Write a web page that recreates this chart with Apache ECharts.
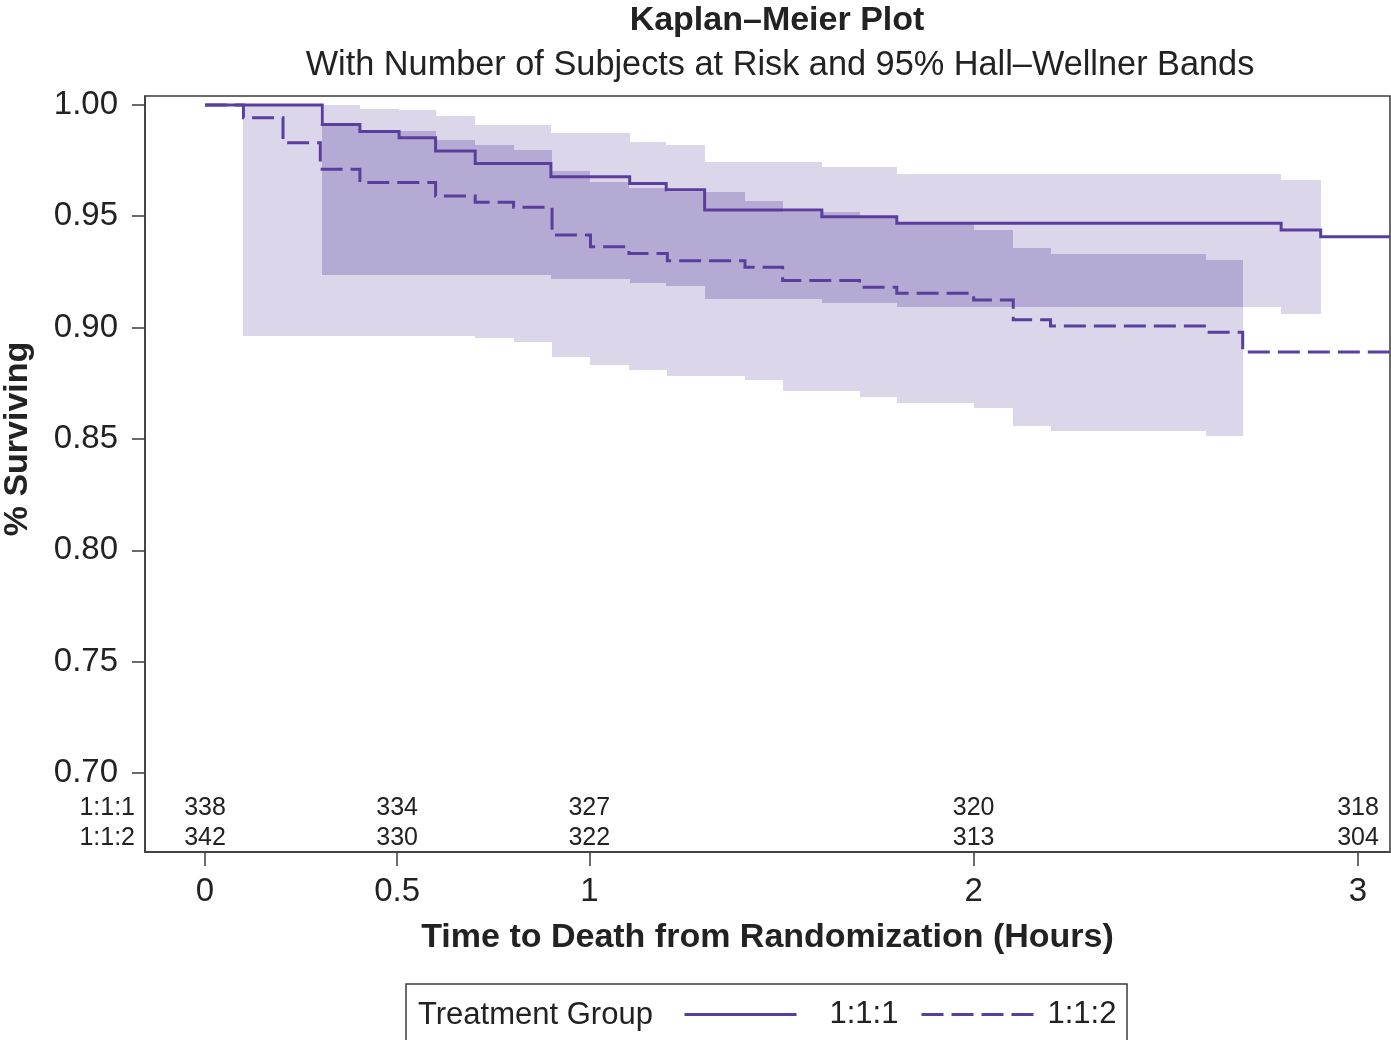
<!DOCTYPE html>
<html><head><meta charset="utf-8">
<script src="https://cdn.jsdelivr.net/npm/echarts@6/dist/echarts.min.js"></script>
<style>html,body{margin:0;padding:0;background:#fff}#c{width:1391px;height:1040px}</style>
</head><body><div id="c"></div>
<script>
// ---------------- data ----------------
const groups = ['1:1:1', '1:1:2'];
const timeTicks = [0, 0.5, 1, 2, 3];
const timeTickLabels = ['0', '0.5', '1', '2', '3'];
const survTicks = [0.70, 0.75, 0.80, 0.85, 0.90, 0.95, 1.00];

// Kaplan-Meier step curves (time in hours, survival proportion)
const km111Time = [0, 0.305, 0.403, 0.505, 0.600, 0.703, 0.900, 1.105, 1.200, 1.300, 1.605, 1.800, 2.800, 2.903, 3.083];
const km111Surv = [1.000, 0.9912, 0.9881, 0.9852, 0.9793, 0.9737, 0.9677, 0.9647, 0.9619, 0.9528, 0.9498, 0.9468, 0.9438, 0.9408, 0.9408];
const km112Time = [0, 0.100, 0.203, 0.300, 0.403, 0.600, 0.703, 0.803, 0.903, 1.003, 1.103, 1.203, 1.405, 1.503, 1.703, 1.800, 2.000, 2.103, 2.200, 2.605, 2.700, 3.083];
const km112Surv = [1.000, 0.9942, 0.9830, 0.9711, 0.9651, 0.9591, 0.9563, 0.9540, 0.9416, 0.9363, 0.9333, 0.9300, 0.9271, 0.9211, 0.9181, 0.9154, 0.9124, 0.9035, 0.9007, 0.8979, 0.8890, 0.8890];

// 95% Hall-Wellner bands: breakpoints and value on each interval
const band111Time  = [0.305, 0.403, 0.505, 0.600, 0.703, 0.900, 1.105, 1.200, 1.300, 1.605, 1.800, 2.800, 2.903];
const band111Upper = [1.000, 0.9982, 0.9978, 0.9948, 0.9910, 0.9873, 0.9835, 0.9820, 0.9745, 0.9720, 0.9690, 0.9663];
const band111Lower = [0.9234, 0.9234, 0.9234, 0.9234, 0.9234, 0.9217, 0.9202, 0.9187, 0.9127, 0.9112, 0.9093, 0.9063];
const band112Time  = [0.100, 0.203, 0.300, 0.403, 0.600, 0.703, 0.803, 0.903, 1.003, 1.103, 1.203, 1.405, 1.503, 1.703, 1.800, 2.000, 2.103, 2.200, 2.605, 2.700];
const band112Upper = [0.9995, 0.9995, 0.9915, 0.9885, 0.9843, 0.9820, 0.9798, 0.9704, 0.9653, 0.9626, 0.9607, 0.9570, 0.9521, 0.9495, 0.9468, 0.9439, 0.9356, 0.9330, 0.9304];
const band112Lower = [0.8964, 0.8964, 0.8964, 0.8964, 0.8964, 0.8952, 0.8934, 0.8870, 0.8832, 0.8810, 0.8784, 0.8765, 0.8717, 0.8689, 0.8663, 0.8638, 0.8560, 0.8537, 0.8515];

// Number of subjects at risk
const riskTimes = [0, 0.5, 1, 2, 3];
const risk111 = [338, 334, 327, 320, 318];
const risk112 = [342, 330, 322, 313, 304];

// ---------------- layout / style ----------------
const FONT = '"Liberation Sans", Arial, Helvetica, sans-serif';
const TXT = '#222';
const AXC = '#3a3a3a';
const LINE = '#5a3e9e';
const LIGHT = '#dcd6ea';
const DARK = '#b5aad4';
const X_MIN = -0.1561, X_MAX = 3.0833;
const Y_MIN = 0.6645, Y_MAX = 1.0040;
const riskRowY = [0.6843, 0.6708];

// ---------------- helpers ----------------
function bandRows(times, lo, hi) {
  const rows = [];
  for (let i = 0; i < lo.length; i++) rows.push([times[i], times[i + 1], lo[i], hi[i]]);
  return rows;
}
function bandAt(times, lo, hi, t) {
  for (let i = 0; i < lo.length; i++) if (t >= times[i] && t < times[i + 1]) return [lo[i], hi[i]];
  return null;
}
function overlapRows() {
  const pts = Array.from(new Set(band111Time.concat(band112Time))).sort((a, b) => a - b);
  const rows = [];
  for (let i = 0; i < pts.length - 1; i++) {
    const m = (pts[i] + pts[i + 1]) / 2;
    const a = bandAt(band111Time, band111Lower, band111Upper, m);
    const b = bandAt(band112Time, band112Lower, band112Upper, m);
    if (a && b) {
      const lo = Math.max(a[0], b[0]), hi = Math.min(a[1], b[1]);
      if (hi > lo) rows.push([pts[i], pts[i + 1], lo, hi]);
    }
  }
  return rows;
}
function rectRenderer(color) {
  return function (params, api) {
    const p0 = api.coord([api.value(0), api.value(3)]);
    const p1 = api.coord([api.value(1), api.value(2)]);
    const x0 = Math.round(p0[0]), x1 = Math.round(p1[0]);
    const y0 = Math.round(p0[1]), y1 = Math.round(p1[1]);
    return { type: 'rect', shape: { x: x0, y: y0, width: x1 - x0, height: y1 - y0 }, style: { fill: color } };
  };
}
function bandSeries(name, rows, color, z) {
  return {
    type: 'custom', name: name, silent: true, z: z,
    renderItem: rectRenderer(color),
    dimensions: ['t0', 't1', 'lo', 'hi'],
    encode: { x: [0, 1], y: [2, 3] },
    data: rows
  };
}
function riskSeries(k, counts) {
  return {
    type: 'scatter', name: 'at risk ' + groups[k], symbol: 'circle', symbolSize: 2,
    itemStyle: { color: 'rgba(255,255,255,0)' }, silent: true, z: 6,
    data: riskTimes.map((t, i) => [t, riskRowY[k], counts[i]]),
    label: { show: true, position: 'inside', formatter: p => String(p.value[2]),
             fontFamily: FONT, fontSize: 25, color: TXT, opacity: 1 },
    labelLayout: { hideOverlap: false }
  };
}

const chart = echarts.init(document.getElementById('c'), null, { renderer: 'canvas' });
chart.setOption({
  animation: false,
  backgroundColor: '#fff',
  textStyle: { fontFamily: FONT },
  title: [
    { text: 'Kaplan–Meier Plot', left: 772, top: -1, textAlign: 'center',
      textStyle: { fontFamily: FONT, fontSize: 34, fontWeight: 'bold', color: TXT } },
    { text: 'With Number of Subjects at Risk and 95% Hall–Wellner Bands', left: 775, top: 44, textAlign: 'center',
      textStyle: { fontFamily: FONT, fontSize: 34.3, fontWeight: 'normal', color: TXT } }
  ],
  grid: { left: 145, right: 1, top: 96, bottom: 188, show: true, borderColor: AXC, borderWidth: 1.5,
          outerBoundsMode: 'none', containLabel: false },
  xAxis: {
    type: 'value', min: X_MIN, max: X_MAX,
    name: 'Time to Death from Randomization (Hours)', nameLocation: 'middle', nameGap: 69,
    nameTextStyle: { fontFamily: FONT, fontSize: 34, fontWeight: 'bold', color: TXT },
    axisLine: { show: true, onZero: false, lineStyle: { color: AXC, width: 1.5 } },
    axisTick: { show: true, length: 14, lineStyle: { color: AXC, width: 1.5 }, customValues: timeTicks },
    axisLabel: { customValues: timeTicks, margin: 23, fontFamily: FONT, fontSize: 33, color: TXT,
                 formatter: v => { const i = timeTicks.findIndex(t => Math.abs(t - v) < 1e-6); return i >= 0 ? timeTickLabels[i] : ''; } },
    splitLine: { show: false }
  },
  yAxis: [
    {
      type: 'value', min: Y_MIN, max: Y_MAX,
      axisLine: { show: true, onZero: false, lineStyle: { color: AXC, width: 1.5 } },
      axisTick: { show: true, length: 13, lineStyle: { color: AXC, width: 1.5 }, customValues: survTicks },
      axisLabel: { customValues: survTicks, margin: 27, fontFamily: FONT, fontSize: 33, color: TXT,
                   formatter: v => v.toFixed(2) },
      splitLine: { show: false }
    },
    {
      type: 'value', min: Y_MIN, max: Y_MAX, position: 'left',
      axisLine: { show: false }, axisTick: { show: false }, splitLine: { show: false },
      axisLabel: { customValues: riskRowY, margin: 10, fontFamily: FONT, fontSize: 25, color: TXT,
                   formatter: v => { const i = riskRowY.findIndex(r => Math.abs(r - v) < 1e-6); return i >= 0 ? groups[i] : ''; } }
    }
  ],
  legend: [
    { data: [groups[0]], left: 683, top: 999, orient: 'horizontal', padding: 0, itemWidth: 112, itemHeight: 14, selectedMode: false,
      textStyle: { fontFamily: FONT, fontSize: 31, color: TXT, padding: [0, 0, 0, 28] },
      itemStyle: { opacity: 0 },
      lineStyle: { width: 3, opacity: 1 } },
    { data: [groups[1]], left: 920, top: 999, orient: 'horizontal', padding: 0, itemWidth: 113, itemHeight: 14, selectedMode: false,
      textStyle: { fontFamily: FONT, fontSize: 31, color: TXT, padding: [0, 0, 0, 8] },
      itemStyle: { opacity: 0 },
      lineStyle: { width: 3, opacity: 1 } }
  ],
  graphic: [
    { type: 'text', silent: true, x: 18, y: 439, rotation: Math.PI / 2,
      style: { text: '% Surviving', fontFamily: FONT, fontSize: 34, fontWeight: 'bold', fill: TXT, align: 'center', verticalAlign: 'middle' } },
    { type: 'rect', silent: true, shape: { x: 406, y: 984, width: 721, height: 80 },
      style: { fill: 'none', stroke: AXC, lineWidth: 1.5 } },
    { type: 'text', silent: true, x: 418, y: 1015,
      style: { text: 'Treatment Group', fontFamily: FONT, fontSize: 31, fill: TXT, align: 'left', verticalAlign: 'middle' } }
  ],
  series: [
    bandSeries('band ' + groups[0], bandRows(band111Time, band111Lower, band111Upper), LIGHT, 1),
    bandSeries('band ' + groups[1], bandRows(band112Time, band112Lower, band112Upper), LIGHT, 1),
    bandSeries('band overlap', overlapRows(), DARK, 2),
    { type: 'line', name: groups[0], step: 'end', symbol: 'none', z: 5, silent: true,
      data: km111Time.map((t, i) => [t, km111Surv[i]]),
      lineStyle: { color: LINE, width: 3, type: 'solid', join: 'miter' }, itemStyle: { color: LINE } },
    { type: 'line', name: groups[1], step: 'end', symbol: 'none', z: 5, silent: true,
      data: km112Time.map((t, i) => [t, km112Surv[i]]),
      lineStyle: { color: LINE, width: 3, type: [22, 8], join: 'miter' }, itemStyle: { color: LINE } },
    riskSeries(0, risk111),
    riskSeries(1, risk112)
  ]
});
</script>
</body></html>
